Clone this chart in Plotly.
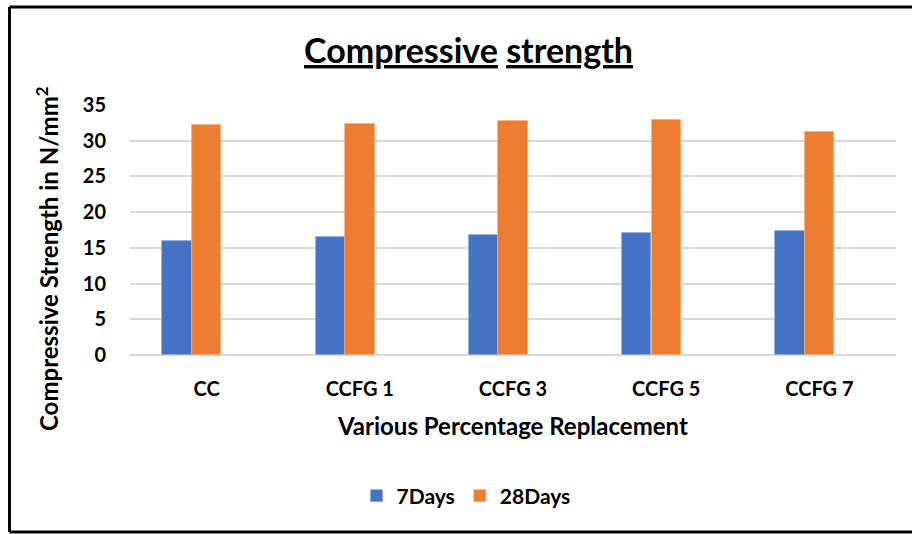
import plotly.graph_objects as go

categories = ["CC", "CCFG 1", "CCFG 3", "CCFG 5", "CCFG 7"]
days7 = [16.0, 16.5, 16.85, 17.1, 17.4]
days28 = [32.2, 32.4, 32.7, 32.9, 31.2]
y_ticks = [0, 5, 10, 15, 20, 25, 30, 35]

W, H = 912, 534
L, R, T, B = 130, 896, 105, 355  # plot area in px

def px_x(x):
    return (x - L) / (R - L)

def px_y(y):
    return (B - y) / (B - T)

FONT = "Lato, 'Open Sans', sans-serif"

fig = go.Figure()
fig.add_trace(go.Bar(x=categories, y=days7, name="7Days", marker=dict(color="#4472C4", line=dict(width=0.8, color="#8FA9DC")),
                     width=0.192, offset=-0.289))
fig.add_trace(go.Bar(x=categories, y=days28, name="28Days", marker=dict(color="#ED7D31", line=dict(width=0.8, color="#F4AE7D")),
                     width=0.192, offset=-0.095))

tf = dict(size=20, family=FONT, color="black", weight="bold")

fig.update_layout(
    width=W, height=H,
    margin=dict(l=L, r=W - R, t=T, b=H - B),
    paper_bgcolor="white", plot_bgcolor="white",
    font=dict(family=FONT, color="black"),
    barmode="overlay",
    showlegend=True,
    legend=dict(orientation="h", x=px_x(466), y=px_y(496), xanchor="center", yanchor="middle",
                font=dict(size=21, family=FONT, color="black", weight="bold"), itemwidth=30, traceorder="normal"),
    xaxis=dict(showgrid=False, showline=False, ticks="", tickfont=tf, ticklabelstandoff=20),
    yaxis=dict(range=[0, 35], tickvals=y_ticks, showgrid=True, gridcolor="#D9D9D9", gridwidth=1.5,
               zeroline=True, zerolinecolor="#D9D9D9", zerolinewidth=1.5, showline=False, ticks="",
               tickfont=tf, ticklabelstandoff=23),
    bargap=0,
)

fig.add_annotation(text="<b><u>Compressive</u> <u>strength</u></b>", xref="paper", yref="paper",
                   x=px_x(468), y=px_y(49), xanchor="center", yanchor="middle", showarrow=False,
                   font=dict(size=34, family=FONT, color="black"))
fig.add_annotation(text="<b>Various Percentage Replacement</b>", xref="paper", yref="paper",
                   x=px_x(512), y=px_y(425), xanchor="center", yanchor="middle", showarrow=False,
                   font=dict(size=24, family=FONT, color="black"))
fig.add_annotation(text="<b>Compressive Strength in N/mm<sup>2</sup></b>", xref="paper", yref="paper",
                   x=px_x(47), y=px_y(259), xanchor="center", yanchor="middle", showarrow=False, textangle=-90,
                   font=dict(size=24, family=FONT, color="black"))

# outer frame
for x0, y0, x1, y1 in [(9.5, 7, 9.5, 532), (9.5, 7, 930, 7), (9.5, 532, 930, 532)]:
    fig.add_shape(type="line", xref="paper", yref="paper", x0=px_x(x0), y0=px_y(y0), x1=px_x(x1), y1=px_y(y1),
                  line=dict(color="black", width=3))

fig.write_html("out.html", config={"displayModeBar": False},
               post_script="document.body.style.margin='0';document.body.style.overflow='hidden';")
